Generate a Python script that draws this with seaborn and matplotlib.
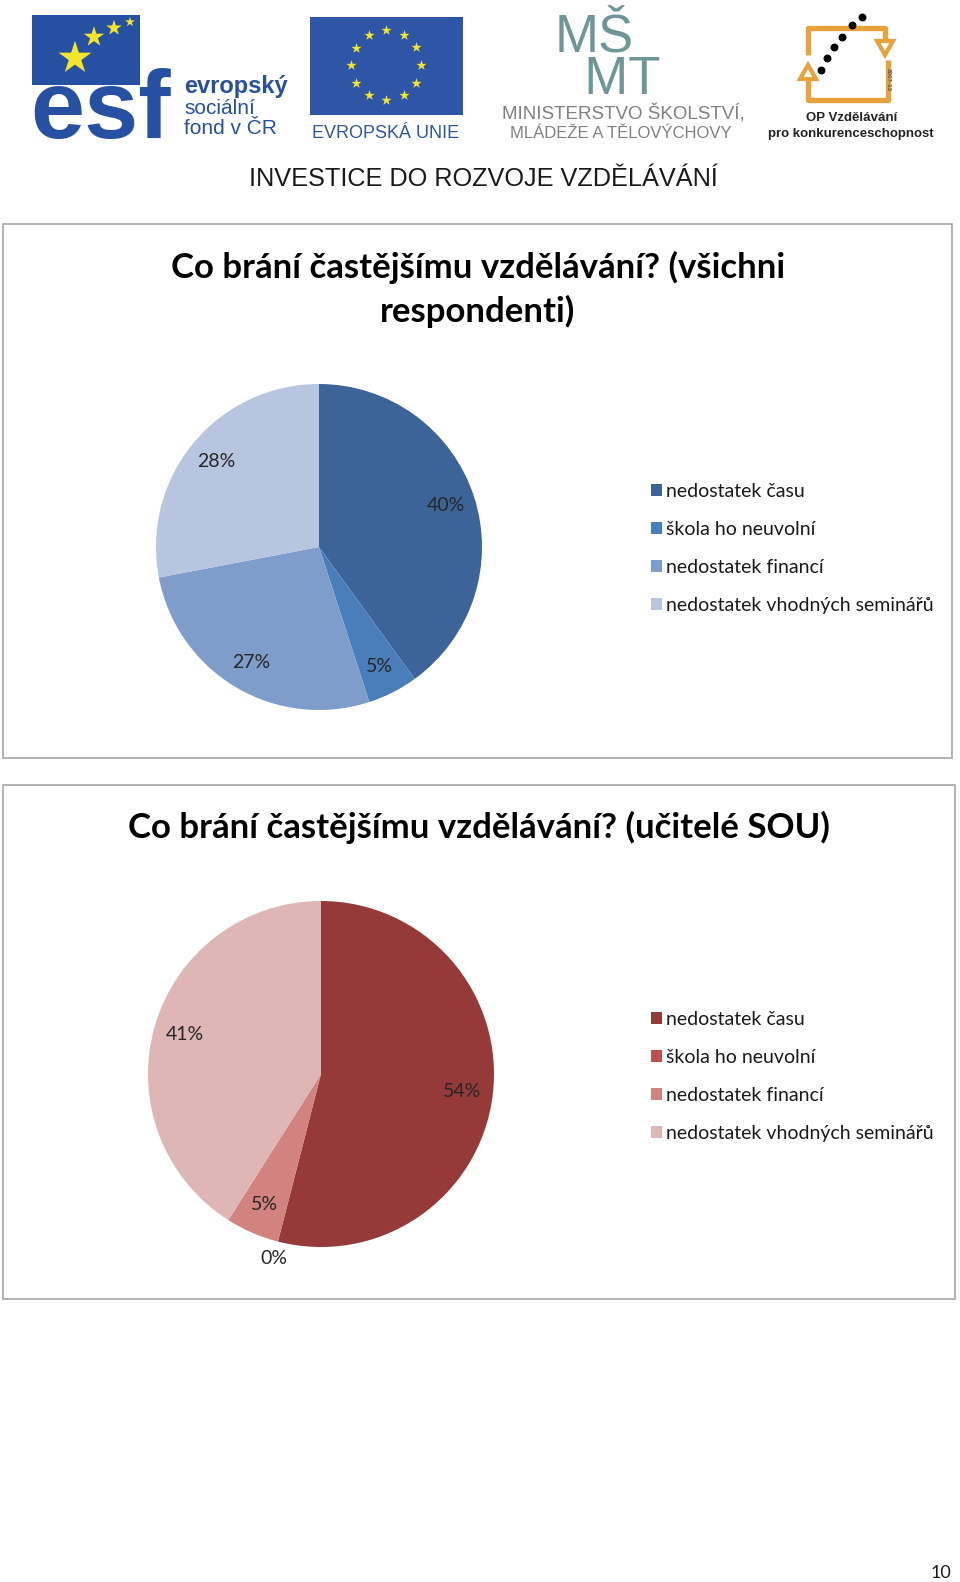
import numpy as np
import matplotlib
matplotlib.use("Agg")
import matplotlib.pyplot as plt
from matplotlib.patches import Rectangle, Polygon
import seaborn as sns

# data
categories = ["nedostatek času", "škola ho neuvolní", "nedostatek financí", "nedostatek vhodných seminářů"]
all_values = [40, 5, 27, 28]
sou_values = [54, 0, 5, 41]
all_title = "Co brání častějšímu vzdělávání? (všichni\nrespondenti)"
sou_title = "Co brání častějšímu vzdělávání? (učitelé SOU)"
blue_colors = ["#3D6499", "#4A7EBB", "#7F9DCA", "#B7C5E0"]
red_colors = ["#953A38", "#C0504D", "#D2827F", "#DDB6B5"]
page_number = "10"

W, H = 960, 1582
sns.set_theme(style="white")
plt.rcParams["font.family"] = ["Lato", "DejaVu Sans"]

fig = plt.figure(figsize=(W / 100, H / 100), dpi=100)
fig.patch.set_facecolor("white")
bg = fig.add_axes([0, 0, 1, 1])
bg.set_xlim(0, W)
bg.set_ylim(H, 0)
bg.axis("off")

arial = ["Liberation Sans", "DejaVu Sans"]

# ---- header: ESF
esf_blue = "#2650A2"
bg.add_patch(Rectangle((32, 15), 108, 70, color=esf_blue, lw=0))
bg.text(30, 138, "esf", family=arial, weight="bold", fontsize=70, color=esf_blue, va="baseline")
bg.scatter([75, 94, 114, 130], [58, 37, 28, 22], s=[620, 240, 140, 55], marker="*",
           color="#F5E52A", linewidths=0, zorder=3)
bg.text(184, 87, "evropský", family=arial, weight="bold", fontsize=17, color=esf_blue, va="center")
bg.text(184, 109, "sociální", family=arial, fontsize=15, color=esf_blue, va="center")
bg.text(184, 129, "fond v ČR", family=arial, fontsize=15, color=esf_blue, va="center")

# ---- header: EU flag
eu_blue = "#2F56A6"
bg.add_patch(Rectangle((310, 17), 153, 98, color=eu_blue, lw=0))
ang = np.deg2rad(np.arange(0, 360, 30))
bg.scatter(386 + 35 * np.cos(ang), 65 + 35 * np.sin(ang), s=60, marker="*",
           color="#F5E52A", linewidths=0, zorder=3)
bg.text(386, 133, "EVROPSKÁ UNIE", family=arial, fontsize=13, color=eu_blue, ha="center", va="center")

# ---- header: MŠMT
msmt = "#6E9699"
bg.text(555, 94, "MŠ\n  MT", family=arial, fontsize=38, color=msmt, va="baseline",
        linespacing=0.8)
bg.text(623, 114, "MINISTERSTVO ŠKOLSTVÍ,", family=arial, fontsize=13.5, color="#808080",
        ha="center", va="center")
bg.text(621, 134, "MLÁDEŽE A TĚLOVÝCHOVY", family=arial, fontsize=12, color="#808080",
        ha="center", va="center")

# ---- header: OP logo
orange = "#E9A23B"
bg.plot([808, 808, 885, 885], [55, 28, 28, 40], color=orange, lw=3.8, solid_capstyle="butt")
bg.add_patch(Polygon([(877, 41), (893, 41), (885, 55)], closed=True, fill=False, ec=orange, lw=3))
bg.plot([808, 808, 888, 888], [80, 100, 100, 60], color=orange, lw=3.8, solid_capstyle="butt")
bg.add_patch(Polygon([(800, 79), (816, 79), (808, 65)], closed=True, fill=False, ec=orange, lw=3))
bg.text(888, 80, "2007-13", family=arial, fontsize=4.5, color="#555555", rotation=-90,
        ha="center", va="center", weight="bold")
bg.scatter([862, 852, 842, 834, 827, 821], [17, 25, 37, 47, 58, 70], s=22, color="black", zorder=3)
bg.text(852, 118, "OP Vzdělávání", family=arial, weight="bold", fontsize=9.5, color="#222222",
        ha="center", va="center")
bg.text(851, 134, "pro konkurenceschopnost", family=arial, weight="bold", fontsize=9.5,
        color="#222222", ha="center", va="center")

bg.text(483, 179, "INVESTICE DO ROZVOJE VZDĚLÁVÁNÍ", family=arial, fontsize=18.2,
        color="#1a1a1a", ha="center", va="center")

# ---- chart frames
bg.add_patch(Rectangle((3, 224), 949, 534, fill=False, ec="#A6A6A6", lw=1.2))
bg.add_patch(Rectangle((3, 785), 952, 514, fill=False, ec="#A6A6A6", lw=1.2))


def draw_pie(values, colors, cx, cy, r):
    ax = fig.add_axes([(cx - r) / W, 1 - (cy + r) / H, 2 * r / W, 2 * r / H])
    wedges, _ = ax.pie(values, colors=colors, startangle=90, counterclock=False,
                       wedgeprops=dict(linewidth=0))
    ax.set_xlim(-1, 1)
    ax.set_ylim(-1, 1)
    for w, v in zip(wedges, values):
        a = np.deg2rad((w.theta1 + w.theta2) / 2)
        d = 0.82 if v > 0 else 1.1
        ax.text(d * np.cos(a), d * np.sin(a), f"{v}%", ha="center", va="center",
                fontsize=14, color="#262626", clip_on=False)
    return wedges


def draw_legend(wedges, x, y):
    leg = bg.legend(wedges, categories, loc="upper left", bbox_to_anchor=(x, y),
                    bbox_transform=bg.transData, frameon=False, fontsize=14,
                    handlelength=0.55, handleheight=0.55, handletextpad=0.2,
                    labelspacing=1.08, borderpad=0, borderaxespad=0)
    for t in leg.get_texts():
        t.set_color("#1a1a1a")
    return leg


# ---- chart 1
bg.text(478, 289, all_title, ha="center", va="center", fontsize=25, weight="bold",
        color="black", linespacing=1.4)
w1 = draw_pie(all_values, blue_colors, 319, 547, 163)
leg1 = draw_legend(w1, 651, 483)
bg.add_artist(leg1)

# ---- chart 2
bg.text(479, 827, sou_title, ha="center", va="center", fontsize=25, weight="bold", color="black")
w2 = draw_pie(sou_values, red_colors, 321, 1074, 173)
draw_legend(w2, 651, 1011)

bg.text(941, 1573, page_number, ha="center", va="center", fontsize=13, color="#1a1a1a")

fig.savefig("out.png", dpi=100, facecolor="white")
